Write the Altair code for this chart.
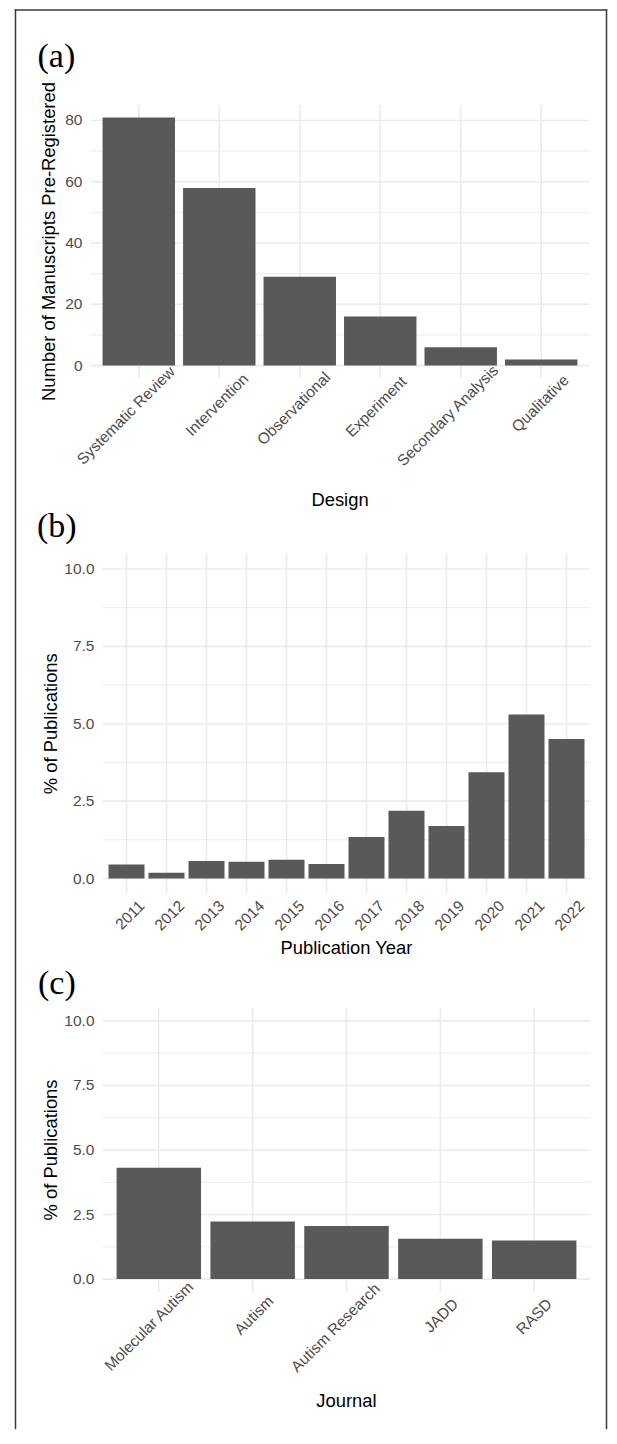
import altair as alt
import pandas as pd

# ---------------- data ----------------
designs = ["Systematic Review", "Intervention", "Observational",
           "Experiment", "Secondary Analysis", "Qualitative"]
design_counts = [81, 58, 29, 16, 6, 2]

years = ["2011", "2012", "2013", "2014", "2015", "2016",
         "2017", "2018", "2019", "2020", "2021", "2022"]
year_pct = [0.45, 0.19, 0.57, 0.54, 0.61, 0.47, 1.34, 2.19, 1.70, 3.43, 5.30, 4.51]

journals = ["Molecular Autism", "Autism", "Autism Research", "JADD", "RASD"]
journal_pct = [4.31, 2.23, 2.06, 1.56, 1.49]

# gridline values (major + minor) and labelled major ticks
count_grid = [0, 10, 20, 30, 40, 50, 60, 70, 80]
count_major = [0, 20, 40, 60, 80]
count_major_labels = ["0", "20", "40", "60", "80"]
pct_grid = [0, 1.25, 2.5, 3.75, 5, 6.25, 7.5, 8.75, 10]
pct_major = [0, 2.5, 5, 7.5, 10]
pct_major_labels = ["0.0", "2.5", "5.0", "7.5", "10.0"]

# ---------------- style ----------------
SANS = "Liberation Sans"
SERIF = "Liberation Serif"
BAR = "#595959"
GRID = "#EBEBEB"
LABEL = "#4D4D4D"
FRAME = "#3A3A3A"
FW = 1.5
TITLE_SIZE = 18.4
TICK_SIZE = 15.5


def panel(df, cat, val, cats, view_w, view_h, x0, x1, plot_h, ydomain,
          grid_vals, major_vals, major_labels, major_step,
          ytitle, ytitle_x, xtitle, xtitle_y, tag, tag_x, tag_y, frame=None):
    xscale = alt.Scale(paddingInner=0.1, paddingOuter=0.15, range=[x0, x1])
    yscale = alt.Scale(domain=ydomain, range=[plot_h, 0], nice=False, zero=False)
    base = alt.Chart(df)

    hgrid = alt.Chart(pd.DataFrame({"v": grid_vals})).mark_rule(color=GRID).encode(
        y=alt.Y("v:Q", scale=yscale, axis=None),
        x=alt.value(x0), x2=alt.value(x1),
        strokeWidth=alt.condition(f"datum.v % {major_step} === 0", alt.value(1.6), alt.value(0.9)),
    )
    vgrid = base.mark_rule(color=GRID, strokeWidth=1.6).encode(
        x=alt.X(f"{cat}:N", sort=cats, scale=xscale, axis=None),
        y=alt.value(0), y2=alt.value(plot_h),
    )
    bars = base.mark_bar(color=BAR).encode(
        x=alt.X(f"{cat}:N", sort=cats, axis=None),
        y=alt.Y(f"{val}:Q", axis=None),
        y2=alt.datum(0),
    )
    xlabels = base.mark_text(
        angle=315, align="right", baseline="alphabetic",
        dx={"expr": f"1.98*length(datum['{cat}']) - 3.8"}, dy=22.5,
        font=SANS, fontSize=TICK_SIZE, color=LABEL,
    ).encode(
        x=alt.X(f"{cat}:N", sort=cats, axis=None),
        y=alt.value(plot_h),
        text=f"{cat}:N",
    )
    ylabels = alt.Chart(pd.DataFrame({"v": major_vals, "lab": major_labels})).mark_text(
        align="right", baseline="middle", font=SANS, fontSize=TICK_SIZE, color=LABEL,
    ).encode(
        y=alt.Y("v:Q", axis=None),
        x=alt.value(x0 - 8),
        text="lab:N",
    )
    ytitle_c = alt.Chart(pd.DataFrame({"t": [ytitle]})).mark_text(
        angle=270, align="center", baseline="alphabetic", font=SANS,
        fontSize=TITLE_SIZE, color="#000000",
    ).encode(text="t:N", x=alt.value(ytitle_x), y=alt.value(plot_h / 2))
    xtitle_c = alt.Chart(pd.DataFrame({"t": [xtitle]})).mark_text(
        align="center", baseline="alphabetic", font=SANS,
        fontSize=TITLE_SIZE, color="#000000",
    ).encode(text="t:N", x=alt.value((x0 + x1) / 2), y=alt.value(xtitle_y))
    tagc = alt.Chart(pd.DataFrame({"tag": [tag]})).mark_text(
        align="left", baseline="alphabetic", font=SERIF, fontSize=34, color="#000000"
    ).encode(text="tag:N", x=alt.value(tag_x), y=alt.value(tag_y))

    layers = [hgrid, vgrid, bars, xlabels, ylabels, ytitle_c, xtitle_c, tagc]
    if frame is not None:
        fl, fr, ft, fb = frame
        rule = alt.Chart(pd.DataFrame({"k": [0]})).mark_rule(
            color=FRAME, strokeWidth=FW, strokeCap="square")
        layers += [
            rule.encode(x=alt.value(fl), y=alt.value(ft), y2=alt.value(fb)),
            rule.encode(x=alt.value(fr), y=alt.value(ft), y2=alt.value(fb)),
            rule.encode(x=alt.value(fl), x2=alt.value(fr), y=alt.value(ft)),
        ]
    return alt.layer(*layers).properties(width=view_w, height=view_h)


df_a = pd.DataFrame({"design": designs, "count": design_counts})
df_b = pd.DataFrame({"year": years, "pct": year_pct})
df_c = pd.DataFrame({"journal": journals, "pct": journal_pct})

# all views share the same left origin (page x = 90); flush layout
pa = panel(df_a, "design", "count", designs, 499, 335, 0, 499, 273, [-4.05, 85.05],
           count_grid, count_major, count_major_labels, 20,
           "Number of Manuscripts Pre-Registered", -35.4, "Design", 400.5,
           "(a)", -53, -38.5, frame=(-75, 516, -95, 1323.5))
pb = panel(df_b, "year", "pct", years, 500, 340.5, 12, 500, 340.5, [-0.5, 10.5],
           pct_grid, pct_major, pct_major_labels, 2.5,
           "% of Publications", -33.6, "Publication Year", 400,
           "(b)", -53.5, -17)
pc = panel(df_c, "journal", "pct", journals, 500, 284, 12, 500, 284, [-0.5, 10.5],
           pct_grid, pct_major, pct_major_labels, 2.5,
           "% of Publications", -33.6, "Journal", 399,
           "(c)", -52.5, -14.3)

chart = alt.vconcat(pa, pb, pc, spacing=113.5, bounds="flush").properties(
    padding={"left": 5.5, "top": 0, "right": 0, "bottom": 0},
    background="#FFFFFF",
).configure_view(strokeWidth=0)

chart.save("out.html", embed_options={"renderer": "svg", "actions": False})
